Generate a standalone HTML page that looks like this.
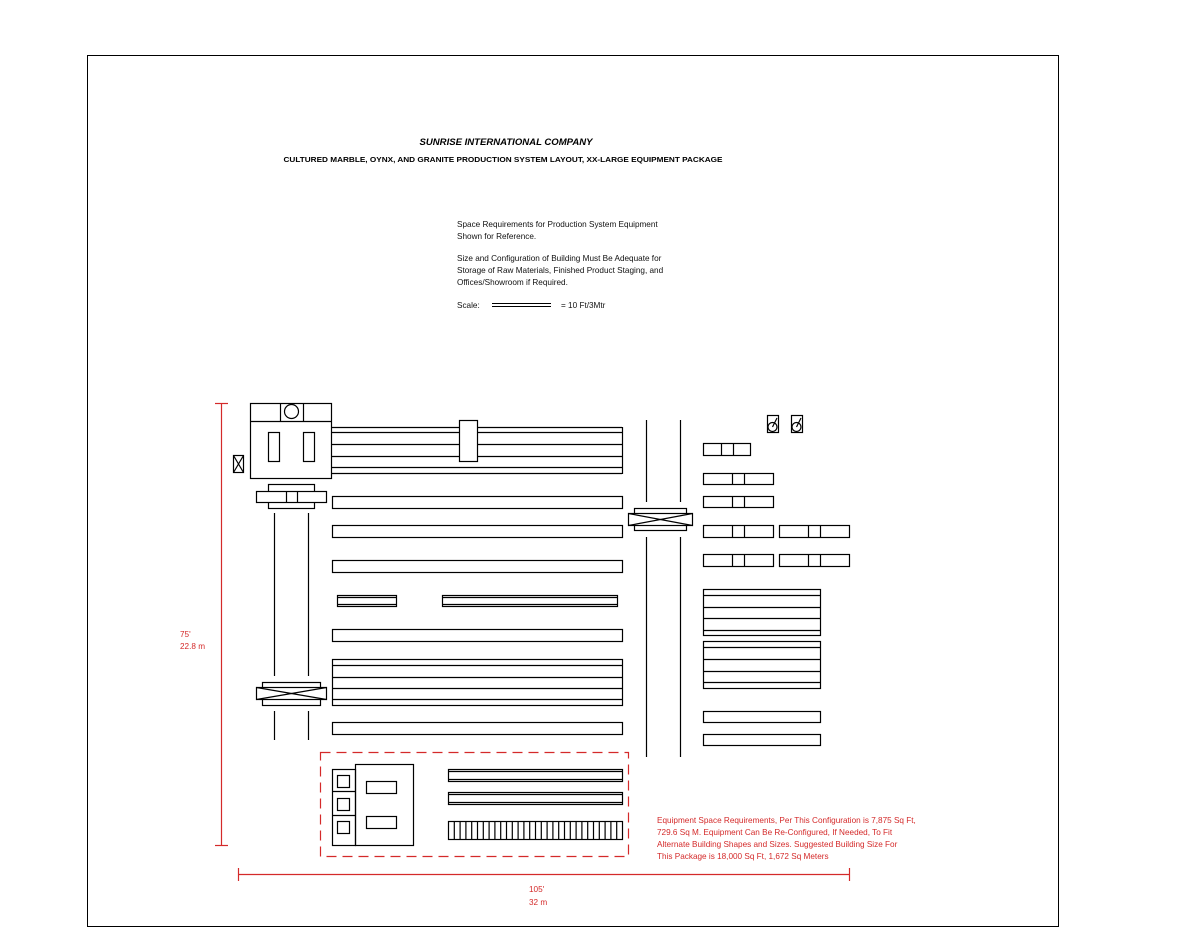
<!DOCTYPE html>
<html><head><meta charset="utf-8"><style>
html,body{margin:0;padding:0;background:#fff;}
svg{display:block;}
text{font-family:"Liberation Sans",Arial,sans-serif;}
</style></head><body>
<svg width="1200" height="927" viewBox="0 0 1200 927" xmlns="http://www.w3.org/2000/svg">
<rect x="0" y="0" width="1200" height="927" fill="#fff"/>
<rect x="87.5" y="55.5" width="971" height="871" fill="none" stroke="#000" stroke-width="1"/>

<text x="506" y="145" font-size="9" font-weight="bold" font-style="italic" text-anchor="middle" textLength="173" lengthAdjust="spacingAndGlyphs">SUNRISE INTERNATIONAL COMPANY</text>
<text x="503" y="162" font-size="7.5" font-weight="bold" text-anchor="middle" textLength="439" lengthAdjust="spacingAndGlyphs">CULTURED MARBLE, OYNX, AND GRANITE PRODUCTION SYSTEM LAYOUT, XX-LARGE EQUIPMENT PACKAGE</text>

<g font-size="8.2" fill="#111">
<text x="457" y="227">Space Requirements for Production System Equipment</text>
<text x="457" y="239">Shown for Reference.</text>
<text x="457" y="261">Size and Configuration of Building Must Be Adequate for</text>
<text x="457" y="273">Storage of Raw Materials, Finished Product Staging, and</text>
<text x="457" y="285">Offices/Showroom if Required.</text>
<text x="457" y="308">Scale:</text>
<text x="561" y="308">= 10 Ft/3Mtr</text>
</g>
<g stroke="#000" stroke-width="1">
<line x1="492" y1="303.5" x2="551" y2="303.5"/>
<line x1="492" y1="306.5" x2="551" y2="306.5"/>
</g>

<g fill="none" stroke="#000" stroke-width="1.2">
<rect x="250.5" y="403.5" width="81" height="75"/>
<line x1="250" y1="421.5" x2="332" y2="421.5"/>
<line x1="280.5" y1="403" x2="280.5" y2="421"/>
<line x1="303.5" y1="403" x2="303.5" y2="421"/>
<circle cx="291.5" cy="411.5" r="7"/>
<rect x="268.5" y="432.5" width="11" height="29"/>
<rect x="303.5" y="432.5" width="11" height="29"/>
<rect x="233.5" y="455.5" width="10" height="17"/>
<line x1="233.5" y1="455.5" x2="243.5" y2="472.5"/>
<line x1="243.5" y1="455.5" x2="233.5" y2="472.5"/>
<line x1="332" y1="427.5" x2="622" y2="427.5"/>
<line x1="332" y1="432.5" x2="622" y2="432.5"/>
<line x1="332" y1="444.5" x2="622" y2="444.5"/>
<line x1="332" y1="456.5" x2="622" y2="456.5"/>
<line x1="332" y1="467.5" x2="622" y2="467.5"/>
<line x1="332" y1="473.5" x2="622" y2="473.5"/>
<line x1="622.5" y1="427" x2="622.5" y2="474"/>
<rect x="459.5" y="420.5" width="18" height="41" fill="#fff"/>
<rect x="268.5" y="484.5" width="46" height="24"/>
<rect x="256.5" y="491.5" width="70" height="11" fill="#fff"/>
<line x1="286.5" y1="491" x2="286.5" y2="503"/>
<line x1="297.5" y1="491" x2="297.5" y2="503"/>
<line x1="274.5" y1="513" x2="274.5" y2="676"/>
<line x1="308.5" y1="513" x2="308.5" y2="676"/>
<line x1="274.5" y1="711" x2="274.5" y2="740"/>
<line x1="308.5" y1="711" x2="308.5" y2="740"/>
<rect x="262.5" y="682.5" width="58" height="23"/>
<rect x="256.5" y="687.5" width="70" height="12" fill="#fff"/>
<line x1="256.5" y1="687.5" x2="326.5" y2="699.5"/>
<line x1="326.5" y1="687.5" x2="256.5" y2="699.5"/>
<rect x="332.5" y="496.5" width="290" height="12"/>
<rect x="332.5" y="525.5" width="290" height="12"/>
<rect x="332.5" y="560.5" width="290" height="12"/>
<rect x="332.5" y="629.5" width="290" height="12"/>
<rect x="332.5" y="722.5" width="290" height="12"/>
<rect x="332.5" y="659.5" width="290" height="46"/>
<line x1="332" y1="665.5" x2="622" y2="665.5"/>
<line x1="332" y1="677.5" x2="622" y2="677.5"/>
<line x1="332" y1="688.5" x2="622" y2="688.5"/>
<line x1="332" y1="699.5" x2="622" y2="699.5"/>
<rect x="337.5" y="595.5" width="59" height="11"/>
<line x1="337" y1="597.5" x2="397" y2="597.5"/>
<line x1="337" y1="604.5" x2="397" y2="604.5"/>
<rect x="442.5" y="595.5" width="175" height="11"/>
<line x1="442" y1="597.5" x2="618" y2="597.5"/>
<line x1="442" y1="604.5" x2="618" y2="604.5"/>
<rect x="332.5" y="769.5" width="23" height="76"/>
<line x1="332" y1="791.5" x2="355" y2="791.5"/>
<line x1="332" y1="815.5" x2="355" y2="815.5"/>
<rect x="337.5" y="775.5" width="12" height="12"/>
<rect x="337.5" y="798.5" width="12" height="12"/>
<rect x="337.5" y="821.5" width="12" height="12"/>
<rect x="355.5" y="764.5" width="58" height="81"/>
<rect x="366.5" y="781.5" width="30" height="12"/>
<rect x="366.5" y="816.5" width="30" height="12"/>
<rect x="448.5" y="769.5" width="174" height="12"/>
<line x1="448" y1="771.5" x2="623" y2="771.5"/>
<line x1="448" y1="779.5" x2="623" y2="779.5"/>
<rect x="448.5" y="792.5" width="174" height="12"/>
<line x1="448" y1="794.5" x2="623" y2="794.5"/>
<line x1="448" y1="802.5" x2="623" y2="802.5"/>
<rect x="448.5" y="821.5" width="174" height="18"/>
<path d="M454.3 822V839M460.1 822V839M465.9 822V839M471.7 822V839M477.5 822V839M483.3 822V839M489.1 822V839M494.9 822V839M500.7 822V839M506.5 822V839M512.3 822V839M518.1 822V839M523.9 822V839M529.7 822V839M535.5 822V839M541.3 822V839M547.1 822V839M552.9 822V839M558.7 822V839M564.5 822V839M570.3 822V839M576.1 822V839M581.9 822V839M587.7 822V839M593.5 822V839M599.3 822V839M605.1 822V839M610.9 822V839M616.7 822V839"/>
<line x1="646.5" y1="420" x2="646.5" y2="502"/>
<line x1="680.5" y1="420" x2="680.5" y2="502"/>
<line x1="646.5" y1="537" x2="646.5" y2="757"/>
<line x1="680.5" y1="537" x2="680.5" y2="757"/>
<rect x="634.5" y="508.5" width="52" height="22"/>
<rect x="628.5" y="513.5" width="64" height="12" fill="#fff"/>
<line x1="628.5" y1="513.5" x2="692.5" y2="525.5"/>
<line x1="692.5" y1="513.5" x2="628.5" y2="525.5"/>
<rect x="767.5" y="415.5" width="11" height="17"/>
<circle cx="772.5" cy="427" r="4.5"/>
<line x1="772.5" y1="427" x2="777" y2="418"/>
<rect x="791.5" y="415.5" width="11" height="17"/>
<circle cx="796.5" cy="427" r="4.5"/>
<line x1="796.5" y1="427" x2="801" y2="418"/>
<rect x="703.5" y="443.5" width="47" height="12"/>
<line x1="721.5" y1="443" x2="721.5" y2="456"/>
<line x1="733.5" y1="443" x2="733.5" y2="456"/>
<rect x="703.5" y="473.5" width="70" height="11"/>
<line x1="732.5" y1="473" x2="732.5" y2="485"/>
<line x1="744.5" y1="473" x2="744.5" y2="485"/>
<rect x="703.5" y="496.5" width="70" height="11"/>
<line x1="732.5" y1="496" x2="732.5" y2="508"/>
<line x1="744.5" y1="496" x2="744.5" y2="508"/>
<rect x="703.5" y="525.5" width="70" height="12"/>
<line x1="732.5" y1="525" x2="732.5" y2="538"/>
<line x1="744.5" y1="525" x2="744.5" y2="538"/>
<rect x="703.5" y="554.5" width="70" height="12"/>
<line x1="732.5" y1="554" x2="732.5" y2="567"/>
<line x1="744.5" y1="554" x2="744.5" y2="567"/>
<rect x="779.5" y="525.5" width="70" height="12"/>
<line x1="808.5" y1="525" x2="808.5" y2="538"/>
<line x1="820.5" y1="525" x2="820.5" y2="538"/>
<rect x="779.5" y="554.5" width="70" height="12"/>
<line x1="808.5" y1="554" x2="808.5" y2="567"/>
<line x1="820.5" y1="554" x2="820.5" y2="567"/>
<rect x="703.5" y="589.5" width="117" height="46"/>
<line x1="703" y1="595.5" x2="821" y2="595.5"/>
<line x1="703" y1="607.5" x2="821" y2="607.5"/>
<line x1="703" y1="618.5" x2="821" y2="618.5"/>
<line x1="703" y1="630.5" x2="821" y2="630.5"/>
<rect x="703.5" y="641.5" width="117" height="47"/>
<line x1="703" y1="647.5" x2="821" y2="647.5"/>
<line x1="703" y1="659.5" x2="821" y2="659.5"/>
<line x1="703" y1="671.5" x2="821" y2="671.5"/>
<line x1="703" y1="682.5" x2="821" y2="682.5"/>
<rect x="703.5" y="711.5" width="117" height="11"/>
<rect x="703.5" y="734.5" width="117" height="11"/>
</g>

<g stroke="#d42a2a" stroke-width="1.2" fill="none">
<rect x="320.5" y="752.5" width="308" height="104" stroke-dasharray="10,6"/>
<line x1="221.5" y1="403" x2="221.5" y2="845"/>
<line x1="215" y1="403.5" x2="228" y2="403.5"/>
<line x1="215" y1="845.5" x2="228" y2="845.5"/>
<line x1="238" y1="874.5" x2="849" y2="874.5"/>
<line x1="238.5" y1="868" x2="238.5" y2="881"/>
<line x1="849.5" y1="868" x2="849.5" y2="881"/>
</g>
<g fill="#d42a2a" font-size="8.2">
<text x="180" y="637">75'</text>
<text x="180" y="649">22.8 m</text>
<text x="529" y="892">105'</text>
<text x="529" y="905">32 m</text>
<text x="657" y="823">Equipment Space Requirements, Per This Configuration is 7,875 Sq Ft,</text>
<text x="657" y="835">729.6 Sq M. Equipment Can Be Re-Configured, If Needed, To Fit</text>
<text x="657" y="847">Alternate Building Shapes and Sizes. Suggested Building Size For</text>
<text x="657" y="859">This Package is 18,000 Sq Ft, 1,672 Sq Meters</text>
</g>
</svg>
</body></html>
